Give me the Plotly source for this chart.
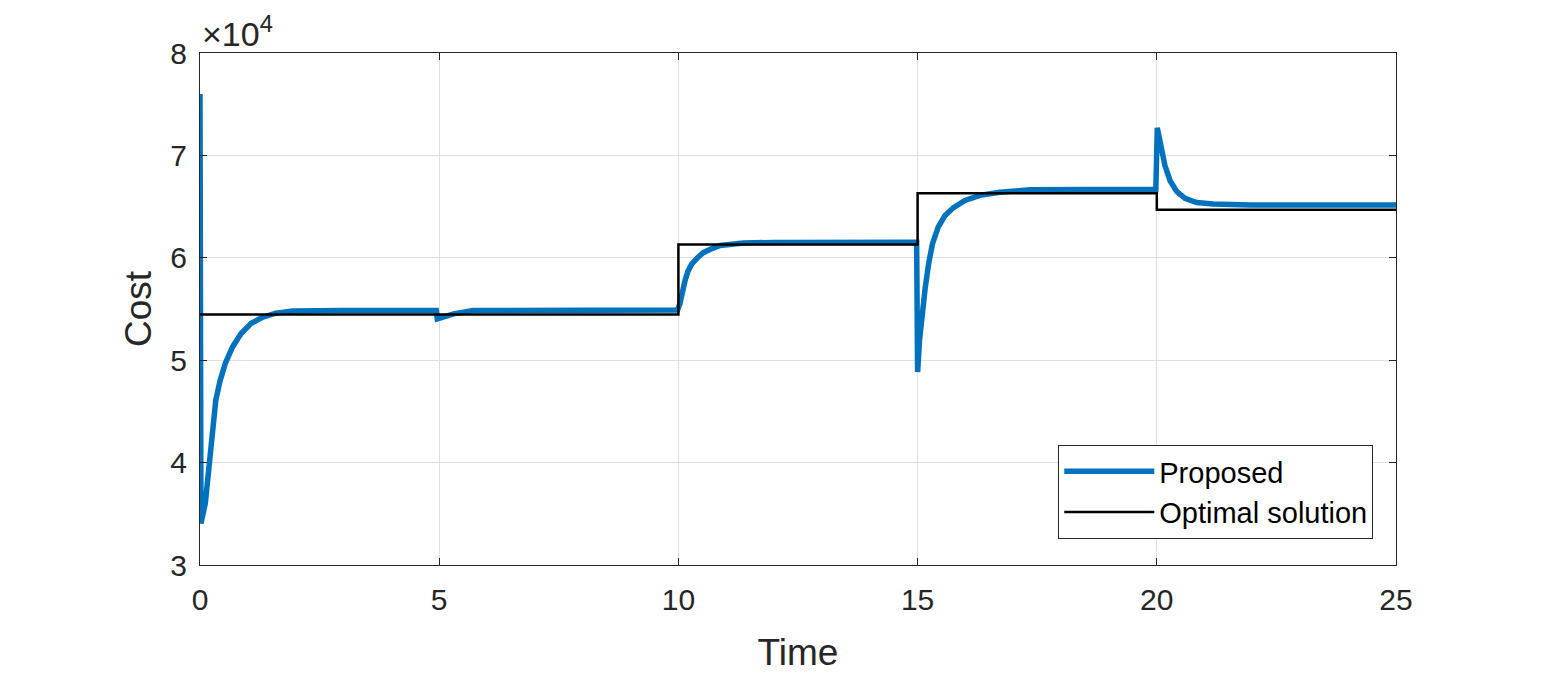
import plotly.graph_objects as go

# Proposed method
prop_t = [0, 0.02, 0.11, 0.16, 0.21, 0.26, 0.33, 0.42, 0.53, 0.68, 0.86, 1.07, 1.31, 1.59, 1.94, 3.0, 4.94,
          4.96, 5.3, 5.71, 7.0, 9.98,
          10.03, 10.08, 10.14, 10.2, 10.28, 10.4, 10.52, 10.7, 10.87, 11.36, 12.0, 14.98,
          15.0, 15.04, 15.09, 15.16, 15.23, 15.31, 15.43, 15.57, 15.75, 15.99, 16.3, 16.72, 17.35, 19.98,
          20.01, 20.11, 20.17, 20.28, 20.42, 20.59, 20.83, 21.18, 21.95, 25.0]
prop_cost = [76000, 34060, 36000, 38600, 41200, 43800, 46100, 48000, 49700, 51300, 52600, 53600, 54200, 54600, 54800, 54850, 54850,
             54040, 54530, 54850, 54880, 54900,
             55500, 56700, 57800, 58700, 59400, 60000, 60500, 60900, 61200, 61450, 61500, 61510,
             48840, 51930, 54530, 57100, 59400, 61350, 63000, 64100, 64900, 65600, 66100, 66400, 66650, 66700,
             72700, 70600, 69000, 67500, 66450, 65800, 65400, 65250, 65150, 65150]

# Optimal solution (piecewise constant)
opt_t = [0, 10, 15, 20, 25]
opt_cost = [54460, 61290, 66300, 64690, 64690]

x_ticks = [0, 5, 10, 15, 20, 25]
y_ticks = [30000, 40000, 50000, 60000, 70000, 80000]
y_tick_labels = ["3", "4", "5", "6", "7", "8"]

FONT = "Liberation Sans, Arial, Helvetica, sans-serif"
AX = "#262626"

fig = go.Figure()
fig.add_trace(go.Scatter(x=prop_t, y=prop_cost, mode="lines", name="Proposed",
                         line=dict(color="#0072BD", width=5.5)))
fig.add_trace(go.Scatter(x=opt_t, y=opt_cost, mode="lines", name="Optimal solution",
                         line=dict(color="#000000", width=2.5, shape="hv")))

axis_common = dict(showline=True, linecolor=AX, linewidth=1, mirror="ticks",
                   ticks="inside", ticklen=7, tickcolor=AX, tickwidth=1,
                   showgrid=True, gridcolor="#dfdfdf", gridwidth=1, zeroline=False,
                   automargin=False,
                   tickfont=dict(family=FONT, size=30, color=AX))

fig.update_xaxes(range=[0, 25], tickvals=x_ticks, ticklabelstandoff=8,
                 title=dict(text="Time", font=dict(family=FONT, size=37, color=AX), standoff=24),
                 **axis_common)
fig.update_yaxes(range=[30000, 80000], tickvals=y_ticks, ticktext=y_tick_labels,
                 ticklabelstandoff=6,
                 title=dict(text="Cost", font=dict(family=FONT, size=37, color=AX), standoff=7),
                 **axis_common)

fig.add_annotation(xref="paper", yref="paper", x=0, y=1, xanchor="left", yanchor="bottom",
                   text="×10<sup>4</sup>", showarrow=False, xshift=0, yshift=-2,
                   font=dict(family=FONT, size=34, color=AX))

fig.update_layout(
    width=1526, height=665,
    margin=dict(l=192, r=138, t=45, b=108),
    paper_bgcolor="white", plot_bgcolor="white",
    showlegend=True,
    legend=dict(x=0.981, y=0.051, xanchor="right", yanchor="bottom",
                bgcolor="white", bordercolor=AX, borderwidth=1,
                font=dict(family=FONT, size=29, color="#000000"),
                itemwidth=90, tracegroupgap=0),
)

fig.write_html("out.html")
